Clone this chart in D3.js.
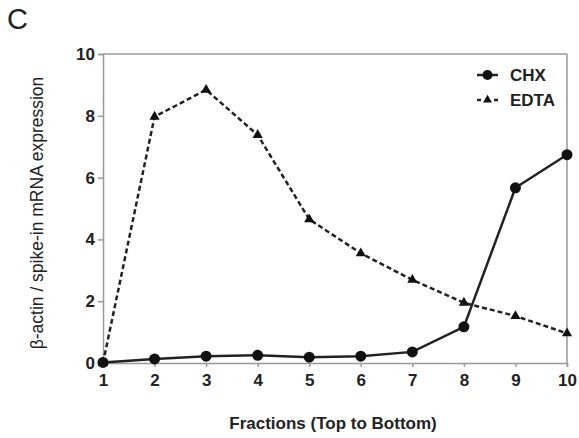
<!DOCTYPE html>
<html><head><meta charset="utf-8">
<script src="https://cdn.jsdelivr.net/npm/d3@7"></script>
<style>body{margin:0;background:#fff}svg{display:block}</style>
</head><body>
<script>
const fractions = [1,2,3,4,5,6,7,8,9,10];
const chx  = [0.02,0.13,0.22,0.25,0.19,0.22,0.36,1.17,5.67,6.74];
const edta = [0.0,7.97,8.84,7.38,4.65,3.55,2.69,1.95,1.52,0.96];
const yTicks = [0,2,4,6,8,10];
const seriesNames = ["CHX","EDTA"];

const W=579,H=438;
const font="Liberation Sans, Arial, sans-serif";
const svg=d3.select("body").append("svg").attr("width",W).attr("height",H);
const x=d3.scaleLinear().domain([1,10]).range([103,567]);
const y=d3.scaleLinear().domain([0,10]).range([363,54]);
const axisColor="#999";
const lineColor="#222";

svg.append("text").attr("x",7).attr("y",29).attr("font-family",font)
  .attr("font-size",29).attr("fill","#222").text("C");

// frame top/right
svg.append("line").attr("x1",x(1)).attr("x2",x(10)).attr("y1",y(10)).attr("y2",y(10)).attr("stroke",axisColor).attr("stroke-width",1.5);
svg.append("line").attr("x1",x(10)).attr("x2",x(10)).attr("y1",y(10)).attr("y2",y(0)).attr("stroke",axisColor).attr("stroke-width",1.5);

const yAxis=svg.append("g").attr("transform",`translate(${x(1)},0)`)
  .call(d3.axisLeft(y).tickValues(yTicks).tickSize(5).tickPadding(3).tickFormat(d3.format("d")));
const xAxis=svg.append("g").attr("transform",`translate(0,${y(0)})`)
  .call(d3.axisBottom(x).tickValues(fractions).tickSize(4).tickPadding(7).tickFormat(d3.format("d")));
[yAxis,xAxis].forEach(g=>{
  g.select(".domain").attr("stroke",axisColor).attr("stroke-width",1.5);
  g.selectAll(".tick line").attr("stroke",axisColor).attr("stroke-width",1.5);
  g.selectAll("text").attr("font-family",font).attr("font-size",17)
    .attr("font-weight","bold").attr("fill","#222");
});

const line=d3.line().x((d,i)=>x(fractions[i])).y(d=>y(d));
svg.append("path").datum(edta).attr("d",line).attr("fill","none").attr("stroke",lineColor)
  .attr("stroke-width",2.5).attr("stroke-dasharray","5,3");
svg.append("path").datum(chx).attr("d",line).attr("fill","none").attr("stroke",lineColor)
  .attr("stroke-width",2.5);

const tri=d3.symbol().type(d3.symbolTriangle).size(45);
svg.selectAll(".tri").data(edta).enter().append("path")
  .attr("transform",(d,i)=>`translate(${x(fractions[i])},${y(d)})`).attr("d",tri).attr("fill","#111");
svg.selectAll(".dot").data(chx).enter().append("circle")
  .attr("cx",(d,i)=>x(fractions[i])).attr("cy",d=>y(d)).attr("r",5.5).attr("fill","#111");

// legend
const lg=svg.append("g");
lg.append("line").attr("x1",477).attr("x2",498).attr("y1",75).attr("y2",75).attr("stroke",lineColor).attr("stroke-width",2.5);
lg.append("circle").attr("cx",487.5).attr("cy",75).attr("r",5).attr("fill","#111");
lg.append("line").attr("x1",477).attr("x2",498).attr("y1",100).attr("y2",100).attr("stroke",lineColor).attr("stroke-width",2.5).attr("stroke-dasharray","4,4.5");
lg.append("path").attr("transform","translate(487.5,100)").attr("d",d3.symbol().type(d3.symbolTriangle).size(35)).attr("fill","#111");
lg.selectAll(".lt").data(seriesNames).enter().append("text").attr("x",510).attr("y",(d,i)=>75+25*i).attr("dy","0.35em")
  .attr("font-family",font).attr("font-size",17).attr("font-weight","bold").attr("fill","#222").text(d=>d);

svg.append("text").attr("x",333).attr("y",429).attr("text-anchor","middle")
  .attr("font-family",font).attr("font-size",17).attr("font-weight","bold").attr("fill","#222")
  .text("Fractions (Top to Bottom)");
svg.append("text").attr("transform","translate(43,213) rotate(-90)").attr("text-anchor","middle")
  .attr("font-family",font).attr("font-size",17.5).attr("fill","#222")
  .text("β-actin / spike-in mRNA expression");
</script>
</body></html>
